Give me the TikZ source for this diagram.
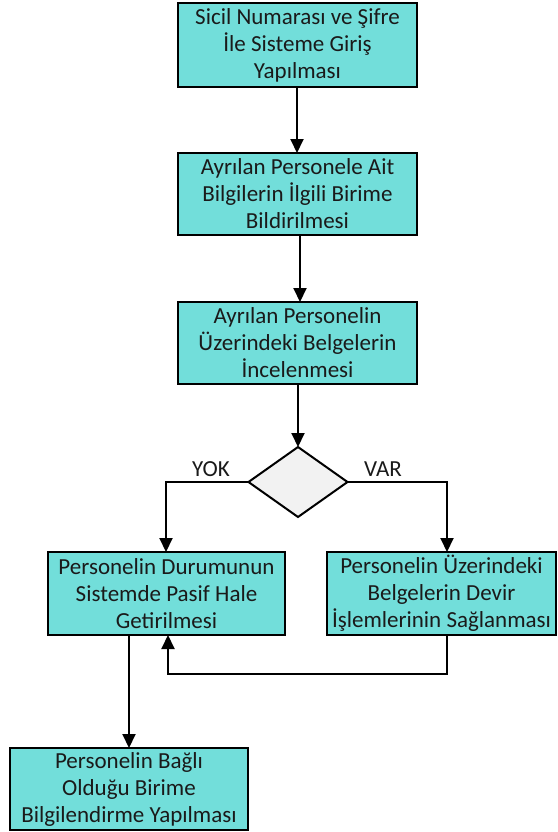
\documentclass[tikz,border=0pt]{standalone}
\usepackage{fontspec}
\setmainfont{Carlito}
\usetikzlibrary{arrows.meta,shapes.geometric}
\definecolor{boxfill}{RGB}{114,222,218}
\definecolor{decfill}{RGB}{242,242,242}
\definecolor{inktext}{RGB}{26,26,26}
\begin{document}
\begin{tikzpicture}[x=1pt,y=-1pt,
  every node/.style={font=\fontsize{23}{27}\selectfont, text=inktext},
  stepbox/.style={draw=black, line width=2pt, fill=boxfill, align=center,
    inner sep=0pt, outer sep=0pt},
  decision/.style={draw=black, line width=2pt, fill=decfill, diamond,
    inner sep=0pt, outer sep=0pt},
  flow/.style={line width=2pt, -{Triangle[width=13pt,length=14pt]}},
  lbl/.style={inner sep=0pt}]
\useasboundingbox (0,0) rectangle (557,832);

% process boxes
\node[stepbox, minimum width=239pt, minimum height=84pt] (b1) at (297.5,45)
  {Sicil Numarası ve Şifre\\İle Sisteme Giriş\\Yapılması};
\node[stepbox, minimum width=239pt, minimum height=82pt] (b2) at (297.5,194)
  {Ayrılan Personele Ait\\Bilgilerin İlgili Birime\\Bildirilmesi};
\node[stepbox, minimum width=239pt, minimum height=82pt] (b3) at (297.5,343)
  {Ayrılan Personelin\\Üzerindeki Belgelerin\\İncelenmesi};

% decision
\node[decision, minimum width=99pt, minimum height=70pt, aspect=1.41] (d) at (298,482) {};

\node[stepbox, minimum width=237pt, minimum height=83pt] (b4) at (166.5,593.5)
  {Personelin Durumunun\\Sistemde Pasif Hale\\Getirilmesi};
\node[stepbox, minimum width=229pt, minimum height=83pt] (b5) at (441.5,593.5)
  {Personelin Üzerindeki\\Belgelerin Devir\\İşlemlerinin Sağlanması};
\node[stepbox, minimum width=238pt, minimum height=82pt] (b6) at (129,789)
  {Personelin Bağlı\\Olduğu Birime\\Bilgilendirme Yapılması};

% branch labels
\node[lbl] (yok) at (211,469) {YOK};
\node[lbl] (var) at (383,469) {VAR};

% connectors
\draw[flow] ([xshift=-0.5pt]b1.south) -- ([xshift=-0.5pt]b2.north);
\draw[flow] ([xshift=2.5pt]b2.south) -- ([xshift=2.5pt]b3.north);
\draw[flow] (d.north |- b3.south) -- (d.north);
\draw[flow] (d.west) -| ([xshift=-0.5pt]b4.north);
\coordinate (r5) at ([xshift=5.5pt]b5.north);
\draw[flow] (d.east) -| (r5);
\coordinate (r5b) at ([xshift=5.5pt]b5.south);
\coordinate (turn) at (447,674);
\draw[flow] (r5b) -- (turn) -| ([xshift=1.5pt]b4.south);
\draw[flow] (b6.north |- b4.south) -- (b6.north);
\end{tikzpicture}
\end{document}
